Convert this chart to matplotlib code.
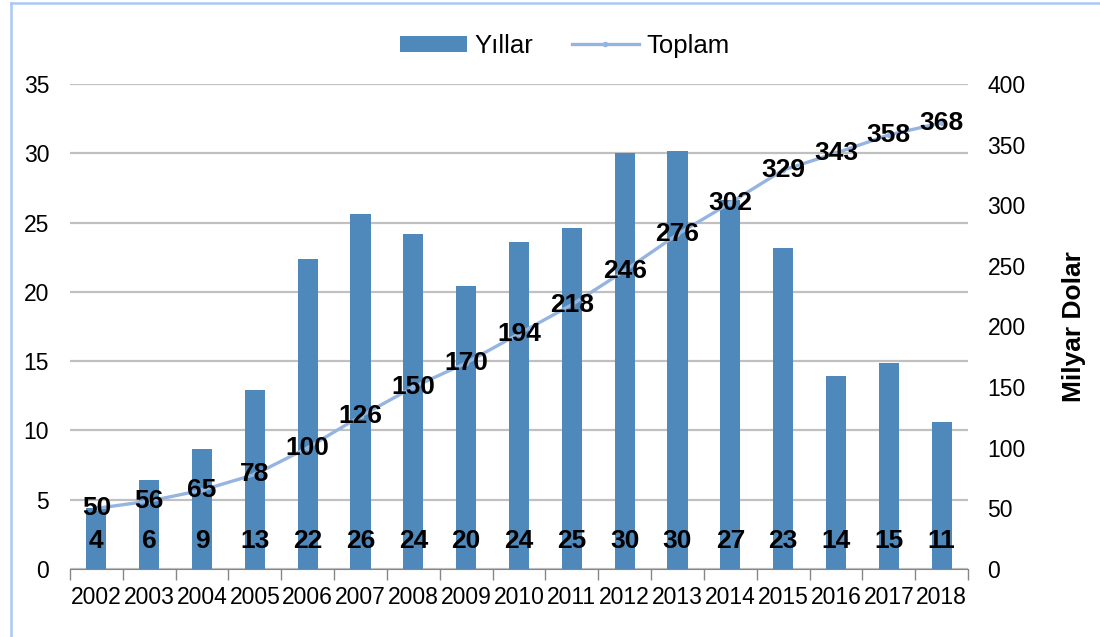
import matplotlib
matplotlib.use("Agg")
import matplotlib.pyplot as plt
from matplotlib.lines import Line2D
import numpy as np

plt.rcParams['font.family'] = ['Liberation Sans', 'DejaVu Sans']

years = ['2002', '2003', '2004', '2005', '2006', '2007', '2008', '2009', '2010',
         '2011', '2012', '2013', '2014', '2015', '2016', '2017', '2018']
yillar = [4.4, 6.4, 8.66, 12.9, 22.4, 25.6, 24.2, 20.4, 23.6,
          24.6, 30.0, 30.2, 26.6, 23.2, 13.9, 14.9, 10.6]
toplam = [50, 56, 65, 78, 100, 126, 150, 170, 194,
          218, 246, 276, 302, 329, 343, 358, 368]

bar_color = '#4f88bb'
line_color = '#95b5e0'
grid_color = '#c0c0c0'

fig = plt.figure(figsize=(11, 6.37), dpi=100)
ax = fig.add_axes([70 / 1100, 1 - 569 / 637, 898 / 1100, 485 / 637])
ax2 = ax.twinx()

x = np.arange(len(years))
bars = ax.bar(x, yillar, width=0.38, color=bar_color, zorder=2, label='Yıllar')
ax.set_ylim(0, 35)
ax.set_yticks(range(0, 36, 5))
ax.set_xlim(-0.5, len(years) - 0.5)
ax.yaxis.grid(True, color=grid_color, linewidth=1.6, zorder=0)
ax.set_axisbelow(True)

for xi, v in zip(x, yillar):
    ax.text(xi, 2, '%.0f' % v, ha='center', va='center',
            fontsize=19, fontweight='bold', zorder=5)

ax2.plot(x, toplam, color=line_color, linewidth=2.4, marker='o', markersize=3,
         zorder=3, label='Toplam')
ax2.set_ylim(0, 400)
ax2.set_yticks(range(0, 401, 50))
for xi, v in zip(x, toplam):
    ax2.text(xi, v, str(v), ha='center', va='center',
             fontsize=19, fontweight='bold', zorder=6)

# category axis: labels at centres, tick marks between categories
ax.set_xticks(x)
ax.set_xticklabels(years, fontsize=16.5)
ax.set_xticks(np.arange(-0.5, len(years), 1), minor=True)
ax.tick_params(axis='x', which='major', length=0, pad=12)
ax.tick_params(axis='x', which='minor', length=8, width=1, color='#868686', direction='out')
ax.tick_params(axis='y', length=0, pad=15, labelsize=16.5)
ax2.tick_params(axis='y', length=0, pad=14, labelsize=16.5)

for a in (ax, ax2):
    for s in ('top', 'left', 'right'):
        a.spines[s].set_visible(False)
ax.spines['bottom'].set_color('#868686')
ax2.spines['bottom'].set_visible(False)

ax2.set_ylabel('Milyar Dolar', fontsize=19, fontweight='bold', labelpad=26)

h1, l1 = ax.get_legend_handles_labels()
h2, l2 = ax2.get_legend_handles_labels()
fig.legend(h1 + h2, l1 + l2, loc='center', bbox_to_anchor=(565 / 1100, 1 - 46 / 637),
           ncol=2, frameon=False, fontsize=18.5, handlelength=2.6, handleheight=0.6,
           columnspacing=1.5, handletextpad=0.3)

# chart area border (top and left edges visible)
fig.add_artist(Line2D([11 / 1100, 11 / 1100], [0, 1 - 3 / 637], transform=fig.transFigure,
                      color='#a9c8f5', linewidth=1.8))
fig.add_artist(Line2D([11 / 1100, 1], [1 - 3 / 637, 1 - 3 / 637], transform=fig.transFigure,
                      color='#a9c8f5', linewidth=1.8))

fig.savefig('out.png', dpi=100)
